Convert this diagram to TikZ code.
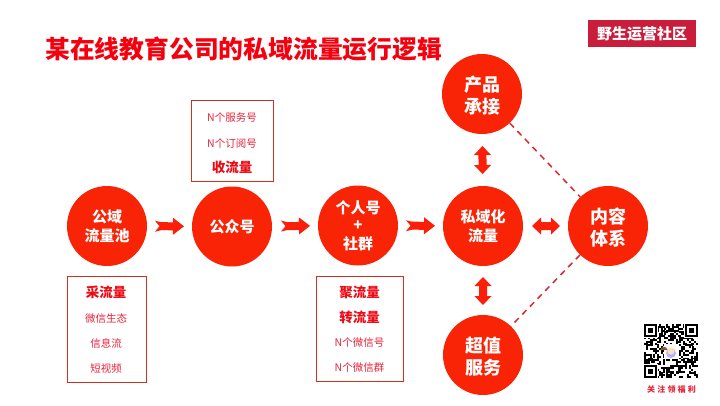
\documentclass[tikz,border=0pt]{standalone}
\usepackage{fontspec}
\setmainfont{Noto Sans CJK SC}
\newfontfamily\spaced[LetterSpace=28]{Noto Sans CJK SC}
\usetikzlibrary{calc}
\definecolor{disc}{HTML}{F92306}
\definecolor{arrowred}{HTML}{FB1E08}
\definecolor{titlered}{HTML}{F5000F}
\definecolor{framered}{HTML}{D1301F}
\definecolor{smallred}{HTML}{E8243A}
\definecolor{boldred}{HTML}{EE0A14}
\definecolor{dashred}{HTML}{D92A2E}
\definecolor{logored}{HTML}{C91D3B}
\newcommand{\dn}[1]{\raisebox{-2pt}[\height][\depth]{#1}}
\tikzset{
  disc/.style={circle,fill=disc,text=white,minimum size=#1,inner sep=0pt,align=center},
  discA/.style={disc=80pt,font=\fontsize{15}{18.5}\selectfont\bfseries},
  discB/.style={disc=80pt,font=\fontsize{18}{22}\selectfont\bfseries},
  infobox/.style={draw=framered,line width=0.8pt,fill=none,inner sep=0pt},
  small/.style={text=smallred,font=\fontsize{10.5}{12}\selectfont,inner sep=0pt},
  strong/.style={text=boldred,font=\fontsize{13.5}{15}\selectfont\bfseries,inner sep=0pt},
  dashlink/.style={draw=dashred,line width=1.5pt,dash pattern=on 6pt off 5pt},
  flowarrow/.style 2 args={fill=arrowred,draw=none,to path={
    ($(\tikztostart)!#1pt!(\tikztotarget)!5.5pt!90:(\tikztotarget)$)
    -- ($(\tikztostart)!#1pt+6pt!(\tikztotarget)!4pt!90:(\tikztotarget)$)
    -- ($(\tikztotarget)!#2pt+11pt!(\tikztostart)!4pt!-90:(\tikztostart)$)
    -- ($(\tikztotarget)!#2pt+11pt!(\tikztostart)!8.5pt!-90:(\tikztostart)$)
    -- ($(\tikztotarget)!#2pt!(\tikztostart)$)
    -- ($(\tikztotarget)!#2pt+11pt!(\tikztostart)!8.5pt!90:(\tikztostart)$)
    -- ($(\tikztotarget)!#2pt+11pt!(\tikztostart)!4pt!90:(\tikztostart)$)
    -- ($(\tikztostart)!#1pt+6pt!(\tikztotarget)!4pt!-90:(\tikztotarget)$)
    -- ($(\tikztostart)!#1pt!(\tikztotarget)!5.5pt!-90:(\tikztotarget)$)
    -- ($(\tikztostart)!#1pt+4.5pt!(\tikztotarget)$) -- cycle}},
  twoway/.style 2 args={fill=arrowred,draw=none,to path={
    ($(\tikztostart)!#1pt!(\tikztotarget)$)
    -- ($(\tikztostart)!#1pt+9pt!(\tikztotarget)!8.5pt!90:(\tikztotarget)$)
    -- ($(\tikztostart)!#1pt+9pt!(\tikztotarget)!4pt!90:(\tikztotarget)$)
    -- ($(\tikztotarget)!#2pt+9pt!(\tikztostart)!4pt!-90:(\tikztostart)$)
    -- ($(\tikztotarget)!#2pt+9pt!(\tikztostart)!8.5pt!-90:(\tikztostart)$)
    -- ($(\tikztotarget)!#2pt!(\tikztostart)$)
    -- ($(\tikztotarget)!#2pt+9pt!(\tikztostart)!8.5pt!90:(\tikztostart)$)
    -- ($(\tikztotarget)!#2pt+9pt!(\tikztostart)!4pt!90:(\tikztostart)$)
    -- ($(\tikztostart)!#1pt+9pt!(\tikztotarget)!4pt!-90:(\tikztotarget)$)
    -- ($(\tikztostart)!#1pt+9pt!(\tikztotarget)!8.5pt!-90:(\tikztotarget)$)
    -- cycle}},
}
\begin{document}
\begin{tikzpicture}[x=1pt,y=-1pt]
\useasboundingbox (0,0) rectangle (720,405);
\fill[white] (0,0) rectangle (720,405);
% circles
\node[discA] (pool) at (107,226) {公域\\流量池};
\node[discA] (gzh) at (232,226.5) {公众号};
\node[discA] (ind) at (358,225.5) {个人号\\[-1pt]+\\[0pt]社群};
\node[discA] (priv) at (483,226) {私域化\\流量};
\node[discB] (prod) at (482,94) {\dn{产品}\\\dn{承接}};
\node[discB] (serv) at (483,355) {\dn{超值}\\\dn{服务}};
\node[discB] (cont) at (608,226) {\dn{内容}\\\dn{体系}};
% dashed links
\draw[dashlink] (prod) -- (cont);
\draw[dashlink] (cont) -- (serv);
% block arrows
\path[flowarrow={48}{48}] (pool) to (gzh);
\path[flowarrow={49}{48}] (gzh) to (ind);
\path[flowarrow={48}{48}] (ind) to (priv);
\path[twoway={49}{48}] (priv) to (cont);
\path[twoway={52}{52}] (prod) to (priv);
\path[twoway={51}{50}] (priv) to (serv);
% title and logo
\node[anchor=west,inner sep=0pt,text=titlered,font=\fontsize{24.8}{28}\selectfont\bfseries] (title) at (45,49) {某在线教育公司的私域流量运行逻辑};
\node[fill=logored,text=white,minimum width=108pt,minimum height=27pt,inner sep=0pt,font=\fontsize{15}{17}\selectfont\bfseries] (logo) at (642,33.5) {野生运营社区};
% info boxes
\draw[infobox] (191,100) rectangle (273,181.5);
\node[small] (t1) at (232,118) {N个服务号};
\node[small] (t2) at (232,143) {N个订阅号};
\node[strong] (t3) at (232,167) {收流量};
\draw[infobox] (67.5,276.5) rectangle (146.5,382.5);
\node[strong] (l1) at (106,292) {采流量};
\node[small] (l2) at (106,318) {微信生态};
\node[small] (l3) at (106,343) {信息流};
\node[small] (l4) at (106,369) {短视频};
\draw[infobox] (316.5,276.5) rectangle (403.5,381);
\node[strong] (r1) at (359.5,292) {聚流量};
\node[strong] (r2) at (359.5,317) {转流量};
\node[small] (r3) at (359.5,343) {N个微信号};
\node[small] (r4) at (359.5,368) {N个微信群};
% QR code
\pgfmathsetseed{20231}
\begin{scope}[shift={(644,324)}]
  \foreach \r in {0,...,28}{
    \foreach \c in {0,...,28}{
      \pgfmathsetmacro{\v}{rnd}
      \ifdim\v pt<0.5pt
        \fill[black] (\c*1.862,\r*1.862) rectangle ++(1.95,1.95);
      \fi
    }
  }
  \foreach \ox/\oy in {0/0,41.0/0,0/41.0}{
    \fill[white] (\ox-0.6,\oy-0.6) rectangle ++(14.2,14.2);
    \fill[black] (\ox,\oy) rectangle ++(13,13);
    \fill[white] (\ox+1.9,\oy+1.9) rectangle ++(9.2,9.2);
    \fill[black] (\ox+3.7,\oy+3.7) rectangle ++(5.6,5.6);
  }
  \fill[white] (19.5,19.5) rectangle ++(15,15);
  \fill[white!70!blue] (27,29) circle (5);
  \fill[white!75!orange] (27,27) circle (3.6);
  \fill[brown!70!black] (23.4,26) arc (180:360:-3.6 and 3.2) -- cycle;
\end{scope}
\node[inner sep=0pt,text=smallred,font=\fontsize{8}{10}\selectfont\bfseries\spaced] (qrlabel) at (671.5,389.5) {关注领福利};
\end{tikzpicture}
\end{document}
